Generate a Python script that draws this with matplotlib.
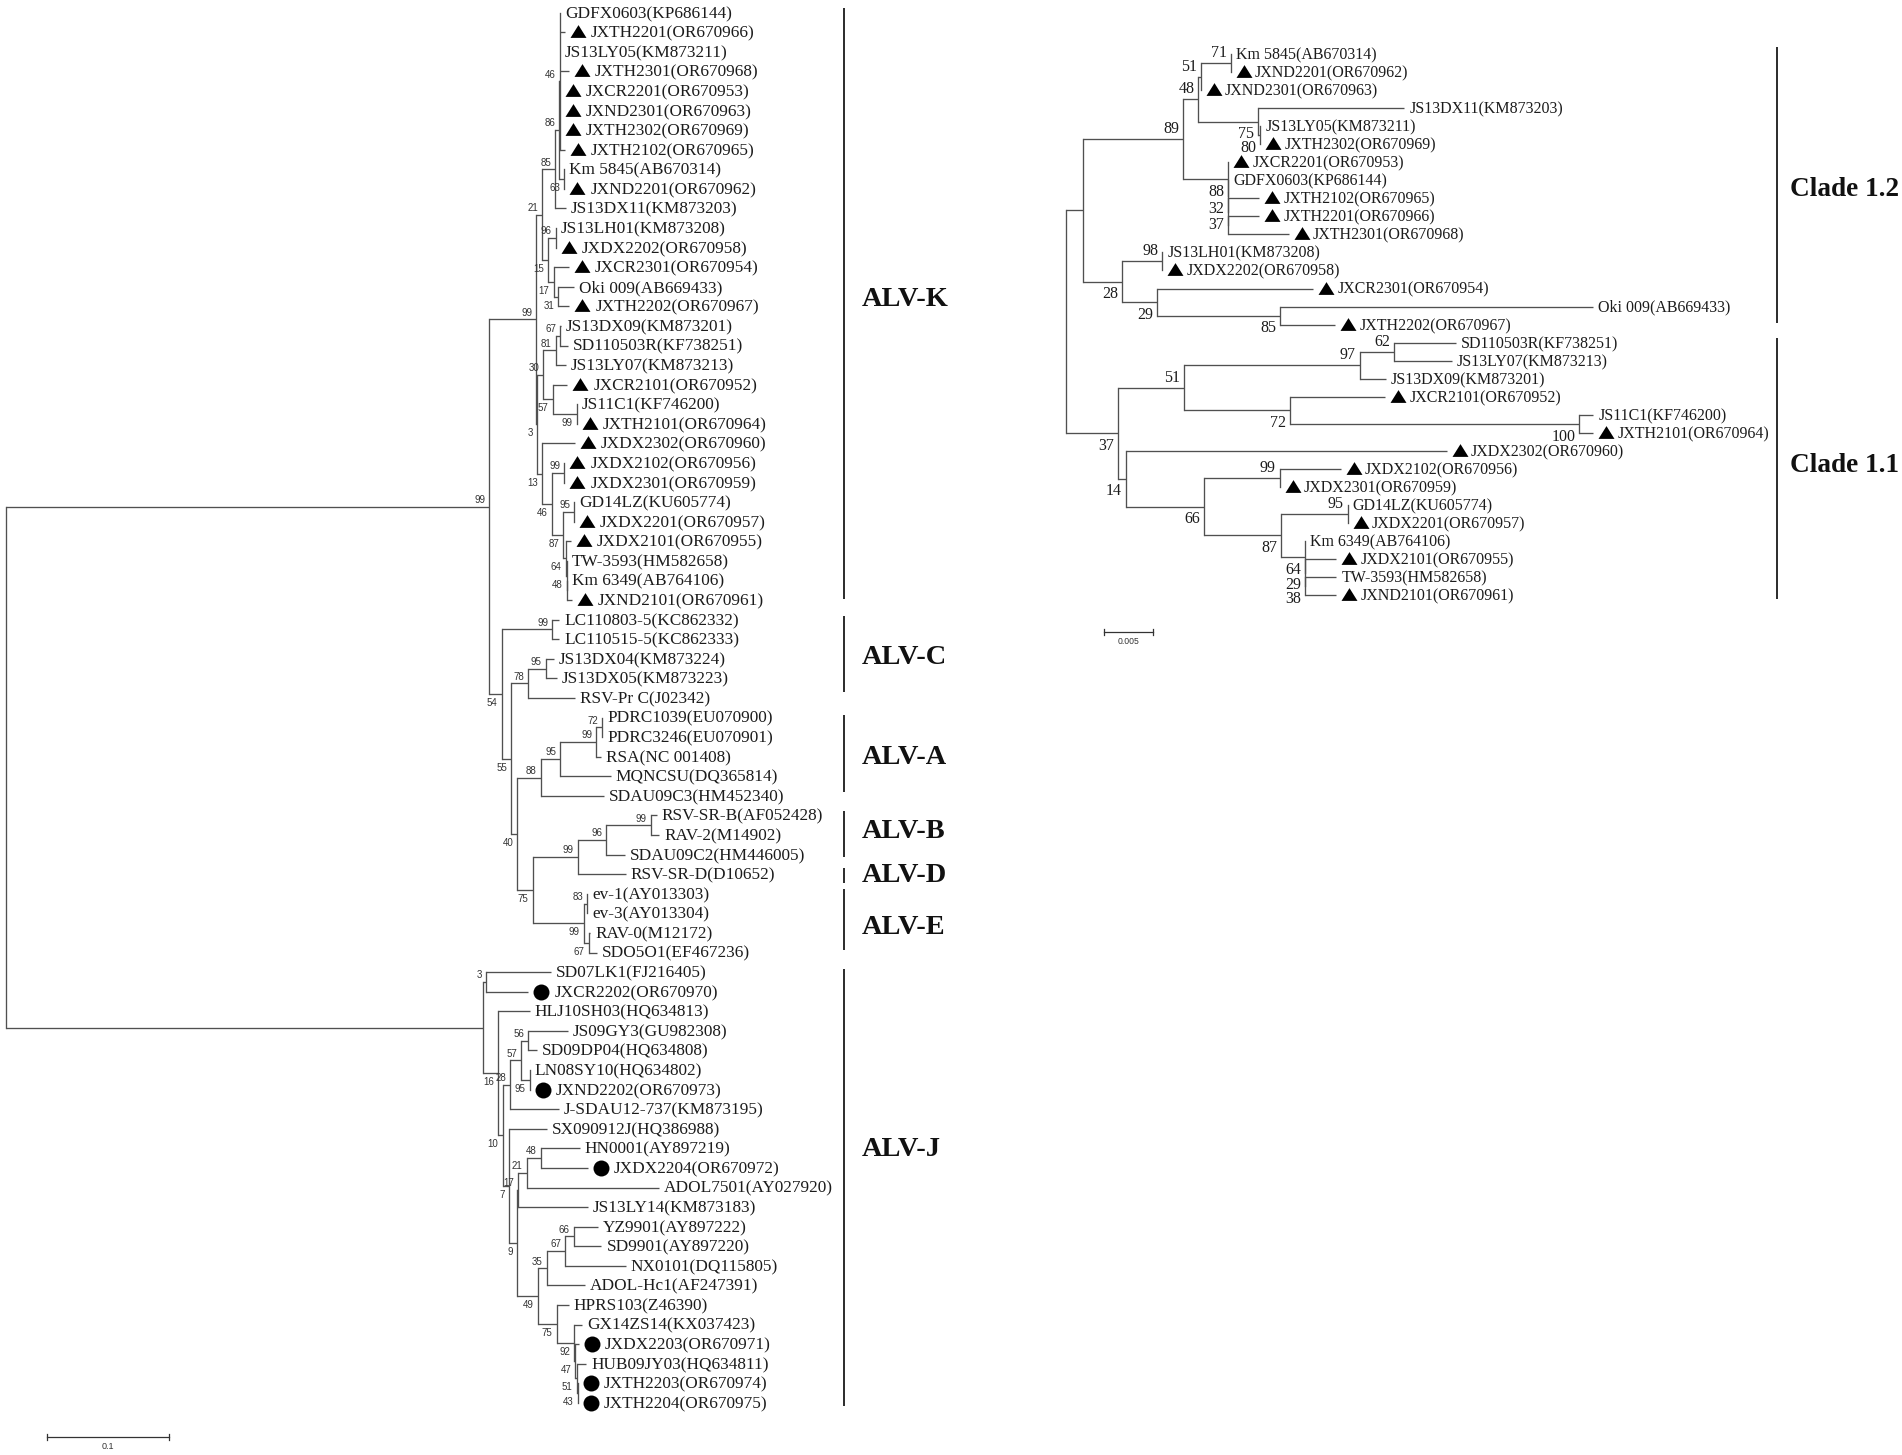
import matplotlib
matplotlib.use("Agg")
import matplotlib.pyplot as plt

W, H = 1902, 1455

# nodes: (distance from root, support, [children]); tips: (distance from root, name)
alv_k_upper = (.4395, 21, [
    (.4504, 85, [
        (.4535, 86, [
            (.4537, 46, [
                (.4540, "GDFX0603(KP686144)"),
                (.4581, "JXTH2201(OR670966)"),
                (.4540, "JS13LY05(KM873211)"),
                (.4616, "JXTH2301(OR670968)"),
                (.4540, "JXCR2201(OR670953)"),
                (.4540, "JXND2301(OR670963)"),
                (.4540, "JXTH2302(OR670969)"),
                (.4581, "JXTH2102(OR670965)"),
            ]),
            (.4576, 63, [
                (.4576, "Km 5845(AB670314)"),
                (.4576, "JXND2201(OR670962)"),
            ]),
        ]),
        (.4589, "JS13DX11(KM873203)"),
    ]),
    (.4444, 15, [
        (.4505, 96, [
            (.4505, "JS13LH01(KM873208)"),
            (.4505, "JXDX2202(OR670958)"),
        ]),
        (.4488, 17, [
            (.4614, "JXCR2301(OR670954)"),
            (.4526, 31, [
                (.4657, "Oki 009(AB669433)"),
                (.4618, "JXTH2202(OR670967)"),
            ]),
        ]),
    ]),
])

alv_k_lower = (.4349, 3, [
    (.4404, 30, [
        (.4507, 81, [
            (.4540, 67, [
                (.4548, "JS13DX09(KM873201)"),
                (.4608, "SD110503R(KF738251)"),
            ]),
            (.4589, "JS13LY07(KM873213)"),
        ]),
        (.4480, 57, [
            (.4600, "JXCR2101(OR670952)"),
            (.4677, 99, [
                (.4677, "JS11C1(KF746200)"),
                (.4677, "JXTH2101(OR670964)"),
            ]),
        ]),
    ]),
    (.4395, 13, [
        (.4663, "JXDX2302(OR670960)"),
        (.4472, 46, [
            (.4576, 99, [
                (.4576, "JXDX2102(OR670956)"),
                (.4576, "JXDX2301(OR670959)"),
            ]),
            (.4567, 87, [
                (.4655, 95, [
                    (.4655, "GD14LZ(KU605774)"),
                    (.4655, "JXDX2201(OR670957)"),
                ]),
                (.4589, 64, [
                    (.4630, "JXDX2101(OR670955)"),
                    (.4595, 48, [
                        (.4600, "TW-3593(HM582658)"),
                        (.4600, None, [
                            (.4600, "Km 6349(AB764106)"),
                            (.4636, "JXND2101(OR670961)"),
                        ]),
                    ]),
                ]),
            ]),
        ]),
    ]),
])

alv_c_pair = (.4477, 99, [
    (.4535, "LC110803-5(KC862332)"),
    (.4535, "LC110515-5(KC862333)"),
])

alv_c_rest = (.4281, 78, [
    (.4423, 95, [
        (.4491, "JS13DX04(KM873224)"),
        (.4513, "JS13DX05(KM873223)"),
    ]),
    (.4663, "RSV-Pr C(J02342)"),
])

alv_a = (.4382, 88, [
    (.4545, 95, [
        (.4840, 99, [
            (.4884, 72, [
                (.4887, "PDRC1039(EU070900)"),
                (.4887, "PDRC3246(EU070901)"),
            ]),
            (.4881, "RSA(NC 001408)"),
        ]),
        (.4955, "MQNCSU(DQ365814)"),
    ]),
    (.4900, "SDAU09C3(HM452340)"),
])

alv_b_d = (.4687, 99, [
    (.4922, 96, [
        (.5283, 99, [
            (.5332, "RSV-SR-B(AF052428)"),
            (.5354, "RAV-2(M14902)"),
        ]),
        (.5073, "SDAU09C2(HM446005)"),
    ]),
    (.5078, "RSV-SR-D(D10652)"),
])

alv_e = (.4737, 99, [
    (.4764, 83, [
        (.4764, "ev-1(AY013303)"),
        (.4764, "ev-3(AY013304)"),
    ]),
    (.4775, 67, [
        (.4788, "RAV-0(M12172)"),
        (.4843, "SDO5O1(EF467236)"),
    ]),
])

alv_j_upper = (.4130, 28, [
    (.4221, 57, [
        (.4281, 56, [
            (.4608, "JS09GY3(GU982308)"),
            (.4349, "SD09DP04(HQ634808)"),
        ]),
        (.4294, 95, [
            (.4294, "LN08SY10(HQ634802)"),
            (.4294, "JXND2202(OR670973)"),
        ]),
    ]),
    (.4532, "J-SDAU12-737(KM873195)"),
])

alv_j_lower = (.4185, 9, [
    (.4199, 17, [
        (.4267, 21, [
            (.4384, 48, [
                (.4704, "HN0001(AY897219)"),
                (.4767, "JXDX2204(OR670972)"),
            ]),
            (.5351, "ADOL7501(AY027920)"),
        ]),
        (.4772, "JS13LY14(KM873183)"),
    ]),
    (.4357, 49, [
        (.4431, 35, [
            (.4584, 67, [
                (.4655, 66, [
                    (.4854, "YZ9901(AY897222)"),
                    (.4881, "SD9901(AY897220)"),
                ]),
                (.5078, "NX0101(DQ115805)"),
            ]),
            (.4745, "ADOL-Hc1(AF247391)"),
        ]),
        (.4513, 75, [
            (.4614, "HPRS103(Z46390)"),
            (.4655, 92, [
                (.4723, "GX14ZS14(KX037423)"),
                (.4666, 47, [
                    (.4696, "JXDX2203(OR670971)"),
                    (.4677, 51, [
                        (.4758, "HUB09JY03(HQ634811)"),
                        (.4687, 43, [
                            (.4690, "JXTH2203(OR670974)"),
                            (.4690, "JXTH2204(OR670975)"),
                        ]),
                    ]),
                ]),
            ]),
        ]),
    ]),
])

full_tree = (0, None, [
    (.3961, 99, [
        (.4346, 99, [alv_k_upper, alv_k_lower]),
        (.4062, 54, [
            alv_c_pair,
            (.4139, 55, [
                alv_c_rest,
                (.4191, 40, [
                    alv_a,
                    (.4316, 75, [alv_b_d, alv_e]),
                ]),
            ]),
        ]),
    ]),
    (.3912, None, [
        (.3937, 3, [
            (.4464, "SD07LK1(FJ216405)"),
            (.4281, "JXCR2202(OR670970)"),
        ]),
        (.4035, 16, [
            (.4294, "HLJ10SH03(HQ634813)"),
            (.4070, 10, [
                alv_j_upper,
                (.4125, 7, [
                    (.4431, "SX090912J(HQ386988)"),
                    alv_j_lower,
                ]),
            ]),
        ]),
    ]),
])

clade_12_upper = (.01189, 89, [
    (.01344, 48, [
        (.01371, 51, [
            (.01676, 71, [
                (.01676, "Km 5845(AB670314)"),
                (.01676, "JXND2201(OR670962)"),
            ]),
            (.01371, "JXND2301(OR670963)"),
        ]),
        (.01947, 75, [
            (.03440, "JS13DX11(KM873203)"),
            (.01974, 80, [
                (.01974, "JS13LY05(KM873211)"),
                (.01974, "JXTH2302(OR670969)"),
            ]),
        ]),
    ]),
    (.01648, 88, [
        (.01648, "JXCR2201(OR670953)"),
        (.01648, 32, [
            (.01648, "GDFX0603(KP686144)"),
            (.01648, 37, [
                (.01963, "JXTH2102(OR670965)"),
                (.01648, None, [
                    (.01963, "JXTH2201(OR670966)"),
                    (.02267, "JXTH2301(OR670968)"),
                ]),
            ]),
        ]),
    ]),
])

clade_12_lower = (.00570, 28, [
    (.00979, 98, [
        (.00979, "JS13LH01(KM873208)"),
        (.00979, "JXDX2202(OR670958)"),
    ]),
    (.00924, 29, [
        (.02516, "JXCR2301(OR670954)"),
        (.02179, 85, [
            (.05364, "Oki 009(AB669433)"),
            (.02737, "JXTH2202(OR670967)"),
        ]),
    ]),
])

clade_11_upper = (.01200, 51, [
    (.02986, 97, [
        (.03335, 62, [
            (.03965, "SD110503R(KF738251)"),
            (.03926, "JS13LY07(KM873213)"),
        ]),
        (.03252, "JS13DX09(KM873201)"),
    ]),
    (.02273, 72, [
        (.03246, "JXCR2101(OR670952)"),
        (.05220, 100, [
            (.05364, "JS11C1(KF746200)"),
            (.05364, "JXTH2101(OR670964)"),
        ]),
    ]),
])

clade_11_lower = (.00608, 14, [
    (.03871, "JXDX2302(OR670960)"),
    (.01399, 66, [
        (.02173, 99, [
            (.02793, "JXDX2102(OR670956)"),
            (.02173, "JXDX2301(OR670959)"),
        ]),
        (.02184, 87, [
            (.02865, 95, [
                (.02865, "GD14LZ(KU605774)"),
                (.02865, "JXDX2201(OR670957)"),
            ]),
            (.02433, 64, [
                (.02433, "Km 6349(AB764106)"),
                (.02433, 29, [
                    (.02748, "JXDX2101(OR670955)"),
                    (.02433, 38, [
                        (.02748, "TW-3593(HM582658)"),
                        (.02748, "JXND2101(OR670961)"),
                    ]),
                ]),
            ]),
        ]),
    ]),
])

inset_tree = (0, None, [
    (.00166, None, [clade_12_upper, clade_12_lower]),
    (.00525, 37, [clade_11_upper, clade_11_lower]),
])

triangle_taxa = [
    "JXTH2201", "JXTH2301", "JXCR2201", "JXND2301", "JXTH2302", "JXTH2102",
    "JXND2201", "JXDX2202", "JXCR2301", "JXTH2202", "JXCR2101", "JXTH2101",
    "JXDX2302", "JXDX2102", "JXDX2301", "JXDX2201", "JXDX2101", "JXND2101",
]
circle_taxa = ["JXCR2202", "JXND2202", "JXDX2204", "JXDX2203", "JXTH2203", "JXTH2204"]

# clade bars: name, top, bottom, label y (pixels)
main_clades = [
    ("ALV-K", 8, 599, 297),
    ("ALV-C", 616, 692, 655),
    ("ALV-A", 715, 792, 754),
    ("ALV-B", 811, 857, 829),
    ("ALV-D", 868, 883, 873),
    ("ALV-E", 889, 950, 925),
    ("ALV-J", 969, 1406, 1146),
]
inset_clades = [
    ("Clade 1.2", 47, 323, 187),
    ("Clade 1.1", 338, 599, 463),
]

LINE_COLOR = "#505050"
TEXT_COLOR = "#1c1c1c"
SERIF = ["Liberation Serif", "DejaVu Serif"]
SANS = ["Liberation Sans", "DejaVu Sans"]
FLAT_TRIANGLE = [(-1, -0.8), (1, -0.8), (0, 0.8)]


def make_axes(fig, root_px, first_row_px, row_gap, px_per_unit):
    ax = fig.add_axes([0, 0, 1, 1])
    ax.set_xlim(-root_px / px_per_unit, (W - root_px) / px_per_unit)
    ax.set_ylim((H - first_row_px) / row_gap, -first_row_px / row_gap)
    ax.axis("off")
    ax.patch.set_alpha(0)
    return ax


def place(node, counter):
    # 葉は上から順に行番号、内部ノードは最初と最後の子の中点
    if isinstance(node[1], str):
        y = counter[0]
        counter[0] += 1
        return {"d": node[0], "name": node[1], "y": y, "kids": []}
    kids = [place(k, counter) for k in node[2]]
    return {"d": node[0], "support": node[1], "kids": kids,
            "y": (kids[0]["y"] + kids[-1]["y"]) / 2}


def draw_tree(ax, node, st, parent=None):
    scale = st["scale"]
    gap = st["row_gap"]
    if parent is not None:
        ax.plot([parent["d"], node["d"]], [node["y"], node["y"]],
                color=LINE_COLOR, lw=st["lw"], solid_capstyle="butt")
    if node["kids"]:
        ax.plot([node["d"], node["d"]], [node["kids"][0]["y"], node["kids"][-1]["y"]],
                color=LINE_COLOR, lw=st["lw"], solid_capstyle="projecting")
        if node.get("support") is not None and parent is not None:
            off = st["above"] if node["y"] < parent["y"] else st["below"]
            ax.text(node["d"] - st["sup_gap"] / scale, node["y"] + off / gap, str(node["support"]),
                    ha="right", va="center", family=st["sup_family"],
                    fontsize=st["sup_size"], color=st["sup_color"])
        for k in node["kids"]:
            draw_tree(ax, k, st, node)
        return
    # tip
    short = node["name"].split("(")[0]
    x_px = st["label_gap"]
    if short in triangle_taxa:
        ax.plot(node["d"] + (st["label_gap"] + 8) / scale, node["y"] - 1 / gap, marker=FLAT_TRIANGLE,
                ms=st["ms"], color="black", mew=0, ls="none")
        x_px += st["marker_w"]
    elif short in circle_taxa:
        ax.plot(node["d"] + (st["label_gap"] + 8) / scale, node["y"], marker="o",
                ms=st["ms"], color="black", mew=0, ls="none")
        x_px += st["marker_w"]
    ax.text(node["d"] + x_px / scale, node["y"] + 1.3 / gap, node["name"], ha="left", va="center",
            family=SERIF, fontsize=st["size"], color=TEXT_COLOR)


def draw_clades(ax, clades, bar_x, label_x, size):
    for name, top, bottom, label_y in clades:
        ax.plot([bar_x, bar_x], [top, bottom], color="#111111", lw=1.25, solid_capstyle="butt")
        ax.text(label_x, label_y + 3, name, ha="left", va="center", family=SERIF,
                fontsize=size, fontweight="bold", color="#111111")


def draw_scale(ax, x0, y, length_px, label, size):
    ax.plot([x0, x0 + length_px], [y, y], color="#333333", lw=0.9)
    for xx in (x0, x0 + length_px):
        ax.plot([xx, xx], [y - 3, y + 3], color="#333333", lw=0.9)
    ax.text(x0 + length_px / 2, y + 9.5, label, ha="center", va="center",
            family=SANS, fontsize=size, color="#333333")


fig = plt.figure(figsize=(W / 100, H / 100), dpi=100, facecolor="white")

main_st = {"scale": 1220, "row_gap": 19.58, "lw": 0.95, "size": 12.4, "ms": 11.5,
           "label_gap": 5, "marker_w": 21, "above": -6.7, "below": 9, "sup_gap": 4,
           "sup_family": SANS, "sup_size": 7, "sup_color": "#333333"}
ax_main = make_axes(fig, 6, 12.7, main_st["row_gap"], main_st["scale"])
draw_tree(ax_main, place(full_tree, [0]), main_st)

inset_st = {"scale": 9825, "row_gap": 18.04, "lw": 0.95, "size": 11.5, "ms": 11.5,
            "label_gap": 5, "marker_w": 19, "above": -10, "below": 12.7, "sup_gap": 4,
            "sup_family": SERIF, "sup_size": 11.5, "sup_color": TEXT_COLOR}
ax_inset = make_axes(fig, 1066.3, 54, inset_st["row_gap"], inset_st["scale"])
draw_tree(ax_inset, place(inset_tree, [0]), inset_st)

# 注釈はピクセル座標で
ax_px = fig.add_axes([0, 0, 1, 1])
ax_px.set_xlim(0, W)
ax_px.set_ylim(H, 0)
ax_px.axis("off")
ax_px.patch.set_alpha(0)
draw_clades(ax_px, main_clades, 843.5, 862, 20.4)
draw_clades(ax_px, inset_clades, 1777, 1790, 19.6)
draw_scale(ax_px, 47.3, 1436.7, 0.1 * main_st["scale"], "0.1", 6.5)
draw_scale(ax_px, 1104.3, 632, 0.005 * inset_st["scale"], "0.005", 6.2)

fig.savefig("out.png", dpi=100)
